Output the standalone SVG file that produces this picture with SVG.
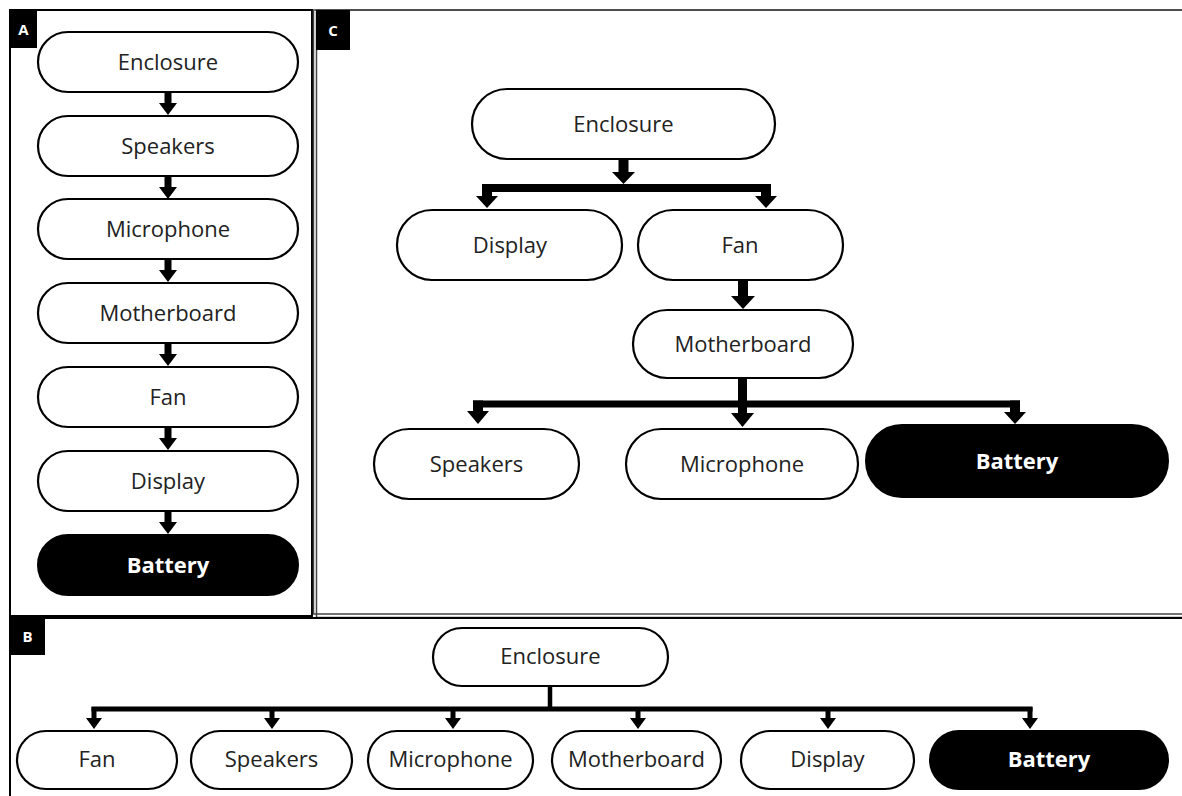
<svg xmlns="http://www.w3.org/2000/svg" width="1182" height="796" viewBox="0 0 1182 796">
<style>
.pill{fill:#fff;stroke:#000;stroke-width:2.2}
.dark{fill:#000;stroke:#000;stroke-width:2}
.t{font-family:"Open Sans","Noto Sans",sans-serif;font-size:22px;fill:#222;text-anchor:middle}
.tb{font-family:"Open Sans","Noto Sans",sans-serif;font-size:22px;font-weight:bold;fill:#fff;text-anchor:middle}
.lab{font-family:"Open Sans","Noto Sans",sans-serif;font-size:15px;font-weight:bold;fill:#fff;text-anchor:middle}
.sh{stroke:#000;fill:none}
.hd{fill:#000}
</style>
<rect width="1182" height="796" fill="#fff"/>
<g id="panels">
<rect x="10" y="10" width="302" height="606" fill="none" stroke="#000" stroke-width="2"/>
<rect x="313.5" y="10" width="880" height="604" fill="none" stroke="#444" stroke-width="1.5"/>
<rect x="316.5" y="10" width="880" height="607.5" fill="none" stroke="#444" stroke-width="1.5"/>
<rect x="10" y="618" width="1200" height="200" fill="none" stroke="#000" stroke-width="2"/>
<rect x="10" y="10" width="27" height="38" fill="#000"/>
<text class="lab" x="23.5" y="35">A</text>
<rect x="316" y="10" width="34" height="40" fill="#000"/>
<text class="lab" x="333" y="36">C</text>
<rect x="10" y="618" width="35" height="37" fill="#000"/>
<text class="lab" x="27.5" y="642">B</text>
</g>
<g id="connectors">
<!-- Panel A -->
<g>
<line class="sh" stroke-width="7" x1="168" y1="92" x2="168" y2="104"/><polygon class="hd" points="159,103 177,103 168,115"/>
<line class="sh" stroke-width="7" x1="168" y1="176" x2="168" y2="188"/><polygon class="hd" points="159,187 177,187 168,199"/>
<line class="sh" stroke-width="7" x1="168" y1="259" x2="168" y2="271"/><polygon class="hd" points="159,270 177,270 168,282"/>
<line class="sh" stroke-width="7" x1="168" y1="343" x2="168" y2="355"/><polygon class="hd" points="159,354 177,354 168,366"/>
<line class="sh" stroke-width="7" x1="168" y1="427" x2="168" y2="439"/><polygon class="hd" points="159,438 177,438 168,450"/>
<line class="sh" stroke-width="7" x1="168" y1="511" x2="168" y2="523"/><polygon class="hd" points="159,522 177,522 168,534"/>
</g>
<!-- Panel C -->
<g>
<line class="sh" stroke-width="10" x1="623.5" y1="159" x2="623.5" y2="173"/><polygon class="hd" points="612,172 635,172 623.5,184"/>
<line class="sh" stroke-width="8" x1="482" y1="188" x2="771" y2="188"/>
<line class="sh" stroke-width="10" x1="487" y1="184" x2="487" y2="197"/><polygon class="hd" points="476,196 498,196 487,208"/>
<line class="sh" stroke-width="10" x1="766" y1="184" x2="766" y2="197"/><polygon class="hd" points="755,196 777,196 766,208"/>
<line class="sh" stroke-width="10" x1="743" y1="280" x2="743" y2="297"/><polygon class="hd" points="731,296 755,296 743,309"/>
<line class="sh" stroke-width="9" x1="742.5" y1="378" x2="742.5" y2="414"/><polygon class="hd" points="731,413 754,413 742.5,427"/>
<line class="sh" stroke-width="7" x1="473" y1="404" x2="1020" y2="404"/>
<line class="sh" stroke-width="10" x1="478" y1="400.5" x2="478" y2="412"/><polygon class="hd" points="467,411 489,411 478,424"/>
<line class="sh" stroke-width="10" x1="1015" y1="400.5" x2="1015" y2="413"/><polygon class="hd" points="1004,412 1026,412 1015,424"/>
</g>
<!-- Panel B -->
<g>
<line class="sh" stroke-width="4.5" x1="550" y1="686" x2="550" y2="709"/>
<line class="sh" stroke-width="5" x1="91.5" y1="709" x2="1032.5" y2="709"/>
<line class="sh" stroke-width="5" x1="94" y1="707" x2="94" y2="719"/><polygon class="hd" points="86,718 102,718 94,729"/>
<line class="sh" stroke-width="5" x1="272" y1="707" x2="272" y2="719"/><polygon class="hd" points="264,718 280,718 272,729"/>
<line class="sh" stroke-width="5" x1="453" y1="707" x2="453" y2="719"/><polygon class="hd" points="445,718 461,718 453,729"/>
<line class="sh" stroke-width="5" x1="638" y1="707" x2="638" y2="719"/><polygon class="hd" points="630,718 646,718 638,729"/>
<line class="sh" stroke-width="5" x1="828" y1="707" x2="828" y2="719"/><polygon class="hd" points="820,718 836,718 828,729"/>
<line class="sh" stroke-width="5" x1="1030" y1="707" x2="1030" y2="719"/><polygon class="hd" points="1022,718 1038,718 1030,729"/>
</g>
</g>
<!-- Panel A nodes -->
<g id="a-enclosure"><rect class="pill" x="38" y="32" width="260" height="60" rx="30"/><text class="t" x="168" y="70">Enclosure</text></g>
<g id="a-speakers"><rect class="pill" x="38" y="116" width="260" height="60" rx="30"/><text class="t" x="168" y="154">Speakers</text></g>
<g id="a-microphone"><rect class="pill" x="38" y="199" width="260" height="60" rx="30"/><text class="t" x="168" y="237">Microphone</text></g>
<g id="a-motherboard"><rect class="pill" x="38" y="283" width="260" height="60" rx="30"/><text class="t" x="168" y="321">Motherboard</text></g>
<g id="a-fan"><rect class="pill" x="38" y="367" width="260" height="60" rx="30"/><text class="t" x="168" y="405">Fan</text></g>
<g id="a-display"><rect class="pill" x="38" y="451" width="260" height="60" rx="30"/><text class="t" x="168" y="489">Display</text></g>
<g id="a-battery"><rect class="dark" x="38" y="535" width="260" height="60" rx="30"/><text class="tb" x="168" y="573">Battery</text></g>
<!-- Panel C nodes -->
<g id="c-enclosure"><rect class="pill" x="472" y="89" width="303" height="70" rx="35"/><text class="t" x="623.5" y="132">Enclosure</text></g>
<g id="c-display"><rect class="pill" x="397" y="210" width="225" height="70" rx="35"/><text class="t" x="510" y="253">Display</text></g>
<g id="c-fan"><rect class="pill" x="638" y="210" width="205" height="70" rx="35"/><text class="t" x="740" y="253">Fan</text></g>
<g id="c-motherboard"><rect class="pill" x="633" y="310" width="220" height="68" rx="34"/><text class="t" x="743" y="352">Motherboard</text></g>
<g id="c-speakers"><rect class="pill" x="374" y="429" width="205" height="70" rx="35"/><text class="t" x="476.5" y="472">Speakers</text></g>
<g id="c-microphone"><rect class="pill" x="626" y="429" width="232" height="70" rx="35"/><text class="t" x="742" y="472">Microphone</text></g>
<g id="c-battery"><rect class="dark" x="866" y="425" width="302" height="72" rx="36"/><text class="tb" x="1017" y="469">Battery</text></g>
<!-- Panel B nodes -->
<g id="b-enclosure"><rect class="pill" x="433" y="628" width="235" height="58" rx="29"/><text class="t" x="550.5" y="664">Enclosure</text></g>
<g id="b-fan"><rect class="pill" x="17" y="731" width="160" height="58" rx="29"/><text class="t" x="97" y="767">Fan</text></g>
<g id="b-speakers"><rect class="pill" x="191" y="731" width="161" height="58" rx="29"/><text class="t" x="271.5" y="767">Speakers</text></g>
<g id="b-microphone"><rect class="pill" x="368" y="731" width="165" height="58" rx="29"/><text class="t" x="450.5" y="767">Microphone</text></g>
<g id="b-motherboard"><rect class="pill" x="552" y="731" width="169" height="58" rx="29"/><text class="t" x="636.5" y="767">Motherboard</text></g>
<g id="b-display"><rect class="pill" x="741" y="731" width="173" height="58" rx="29"/><text class="t" x="827.5" y="767">Display</text></g>
<g id="b-battery"><rect class="dark" x="930" y="731" width="238" height="58" rx="29"/><text class="tb" x="1049" y="767">Battery</text></g>
</svg>
